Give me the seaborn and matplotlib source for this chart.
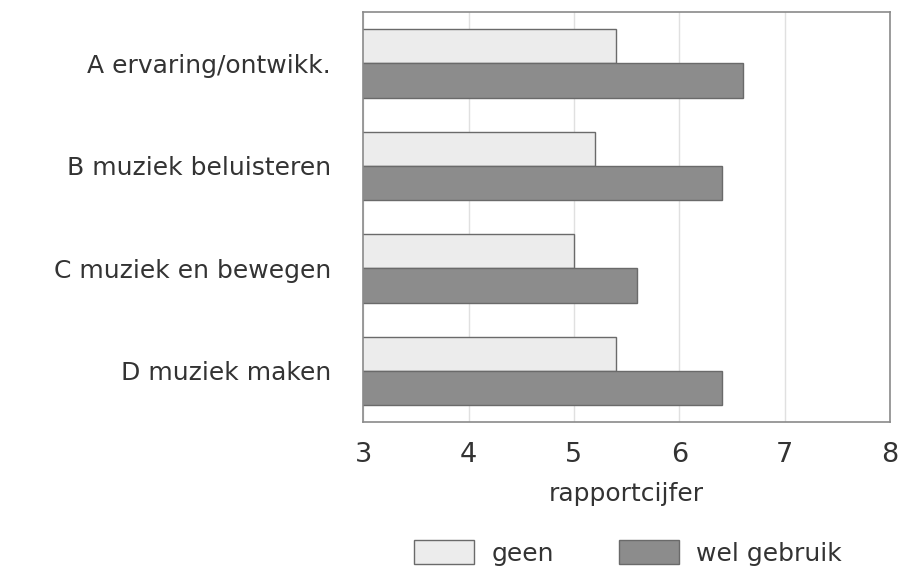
import matplotlib
matplotlib.use("Agg")
import matplotlib.pyplot as plt
import seaborn as sns
import pandas as pd

categories = ["A ervaring/ontwikk.", "B muziek beluisteren", "C muziek en bewegen", "D muziek maken"]
series_names = ["geen", "wel gebruik"]
geen = [5.4, 5.2, 5.0, 5.4]
wel_gebruik = [6.6, 6.4, 5.6, 6.4]
x_ticks = [3, 4, 5, 6, 7, 8]

df = pd.DataFrame({
    "categorie": categories * 2,
    "reeks": [series_names[0]] * len(categories) + [series_names[1]] * len(categories),
    "waarde": geen + wel_gebruik,
})

sns.set_theme(style="white")
plt.rcParams["font.family"] = ["DejaVu Sans"]

fig = plt.figure(figsize=(9.01, 5.76), dpi=100)
ax = fig.add_axes([0.403, 0.267, 0.585, 0.712])

palette = {"geen": "#ececec", "wel gebruik": "#8c8c8c"}
sns.barplot(data=df, y="categorie", x="waarde", hue="reeks", order=categories,
            hue_order=series_names, palette=palette, orient="h", width=0.67,
            edgecolor="#6a6a6a", linewidth=1.0, saturation=1, ax=ax, legend=True)

txt = "#333333"
ax.set_xlim(3, 8)
ax.set_ylim(3.5, -0.5)
ax.set_xticks(x_ticks)
ax.set_xticklabels([str(t) for t in x_ticks], fontsize=19.5, color=txt)
ax.tick_params(axis="x", length=0, pad=14)
ax.tick_params(axis="y", length=0, pad=23)
for lbl in ax.get_yticklabels():
    lbl.set_fontsize(18)
    lbl.set_color(txt)
ax.set_ylabel("")
ax.set_xlabel("rapportcijfer", fontsize=18, color=txt, labelpad=10)
ax.xaxis.grid(True, color="#e0e0e0", linewidth=1)
ax.set_axisbelow(True)
for s in ax.spines.values():
    s.set_color("#8a8a8a")
    s.set_linewidth(1.2)

handles, labels = ax.get_legend_handles_labels()
ax.get_legend().remove()
fig.legend(handles, labels, loc="center", bbox_to_anchor=(0.697, 0.04), ncol=2,
           frameon=False, fontsize=18, handlelength=2.4, handleheight=1.1,
           columnspacing=2.6, handletextpad=0.7, labelcolor=txt)

fig.savefig("out.png", dpi=100)
